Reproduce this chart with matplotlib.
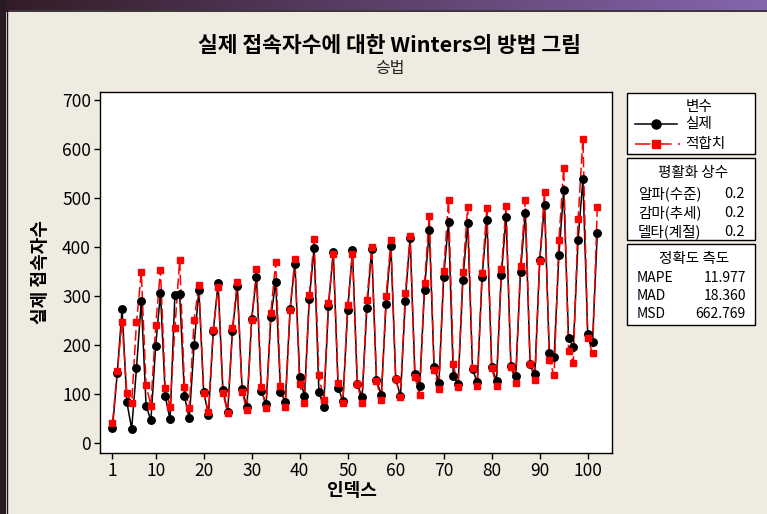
import numpy as np
import matplotlib
matplotlib.use("Agg")
import matplotlib.pyplot as plt
from matplotlib.patches import Rectangle
from matplotlib.lines import Line2D

plt.rcParams['font.family'] = ['Noto Sans CJK KR', 'DejaVu Sans']

# ---- data -------------------------------------------------------------
index = np.arange(1, 103)

actual = [31, 143, 274, 83, 29, 152, 290, 76, 46, 198, 306, 95, 48, 301, 304, 95,
          50, 199, 312, 104, 58, 228, 327, 109, 63, 229, 320, 111, 73, 253, 339, 107,
          79, 257, 329, 105, 84, 273, 366, 135, 96, 293, 397, 105, 73, 280, 390, 113,
          86, 271, 393, 120, 94, 276, 395, 128, 98, 284, 402, 130, 96, 290, 419, 141,
          116, 312, 435, 155, 123, 339, 451, 136, 120, 333, 449, 150, 124, 339, 454, 155,
          127, 342, 461, 157, 136, 349, 470, 161, 141, 373, 486, 184, 176, 383, 516, 214,
          195, 415, 538, 222, 206, 429]

fitted = [41, 146, 247, 101, 81, 246, 348, 118, 76, 240, 353, 112, 73, 234, 373, 115,
          71, 250, 323, 101, 63, 231, 319, 101, 62, 235, 329, 104, 67, 251, 354, 114,
          71, 266, 369, 116, 73, 271, 376, 120, 82, 301, 416, 138, 87, 286, 386, 122,
          82, 282, 385, 120, 82, 291, 400, 126, 87, 300, 414, 131, 94, 305, 422, 134,
          98, 327, 463, 148, 110, 351, 495, 161, 114, 348, 482, 153, 116, 346, 480, 153,
          117, 354, 484, 156, 123, 362, 495, 161, 129, 371, 512, 169, 138, 414, 561, 188,
          164, 456, 621, 215, 183, 481]

x_ticks = [1, 10, 20, 30, 40, 50, 60, 70, 80, 90, 100]
y_ticks = [0, 100, 200, 300, 400, 500, 600, 700]

series_labels = ['실제', '적합치']
smoothing_labels = ['알파(수준)', '감마(추세)', '델타(계절)']
smoothing_values = ['0.2', '0.2', '0.2']
accuracy_labels = ['MAPE', 'MAD', 'MSD']
accuracy_values = ['11.977', '18.360', '662.769']

# ---- figure -----------------------------------------------------------
W, H = 767, 514
fig = plt.figure(figsize=(W / 100, H / 100), dpi=100)
fig.patch.set_facecolor('#EFEBE1')


def fx(px):
    return px / W


def fy(py):
    return 1 - py / H


# window frame: gradient title strip and dark left edge
bar = fig.add_axes([0, fy(10), 1, 10 / H])
grad = np.linspace(0, 1, 256)
c0 = np.array([0.20, 0.11, 0.15])
c1 = np.array([0.52, 0.40, 0.68])
img = (c0[None, :] * (1 - grad[:, None]) + c1[None, :] * grad[:, None])[None, :, :]
bar.imshow(img, aspect='auto', extent=[0, 1, 0, 1])
bar.set_axis_off()
fig.add_artist(Rectangle((0, 0), fx(6), 1, transform=fig.transFigure,
                         facecolor='#2a1a21', edgecolor='none', zorder=5))
fig.add_artist(Line2D([fx(6), 1], [fy(10.5), fy(10.5)], transform=fig.transFigure,
                      color='#1c1418', lw=1.2, zorder=6))
fig.add_artist(Line2D([fx(6.5), fx(6.5)], [0, fy(10)], transform=fig.transFigure,
                      color='#1c1418', lw=1.0, zorder=6))

# ---- main plot --------------------------------------------------------
ax = fig.add_axes([fx(100), fy(453), fx(612) - fx(100), fy(92) - fy(453)])
ax.set_facecolor('white')

ax.plot(index, actual, color='black', lw=1.1, zorder=2)
ax.plot(index, fitted, color='#FF0000', lw=1.1, ls=(0, (7, 2.5)), zorder=3)
ax.plot(index, actual, ls='none', marker='o', ms=5.4, color='black', zorder=4)
ax.plot(index, fitted, ls='none', marker='s', ms=4.9, color='#FF0000', zorder=5)

ax.set_xlim(-1.6, 105.06)
ax.set_ylim(-20.4, 716)
ax.set_xticks(x_ticks)
ax.set_yticks(y_ticks)
ax.tick_params(direction='out', length=4, width=1, labelsize=12.5, pad=2.5,
               colors='black')
for s in ax.spines.values():
    s.set_color('black')
    s.set_linewidth(1.0)

# titles and axis labels
fig.text(fx(389), fy(46), '실제 접속자수에 대한 Winters의 방법 그림', ha='center',
         va='center', fontsize=15.5, fontweight='bold')
fig.text(fx(390), fy(69), '승법', ha='center', va='center', fontsize=11.5,
         color='#222222')
fig.text(fx(352), fy(491), '인덱스', ha='center', va='center', fontsize=13,
         fontweight='bold')
fig.text(fx(40), fy(272), '실제 접속자수', ha='center', va='center', fontsize=13,
         fontweight='bold', rotation=90)

# ---- side panels ------------------------------------------------------
def panel(top, bottom):
    fig.add_artist(Rectangle((fx(627), fy(bottom)), fx(755) - fx(627),
                             fy(top) - fy(bottom), transform=fig.transFigure,
                             facecolor='white', edgecolor='black', lw=1.0))


fs = 10.5
panel(93, 154)
fig.text(fx(699), fy(107), '변수', ha='center', va='center', fontsize=fs)
fig.add_artist(Line2D([fx(635), fx(677)], [fy(124), fy(124)],
                      transform=fig.transFigure, color='black', lw=1.1))
fig.add_artist(Line2D([fx(656)], [fy(124)], transform=fig.transFigure,
                      marker='o', ms=6.5, color='black', ls='none'))
fig.text(fx(685), fy(124), series_labels[0], ha='left', va='center', fontsize=fs)
fig.add_artist(Line2D([fx(635), fx(680)], [fy(144), fy(144)],
                      transform=fig.transFigure, color='#FF0000', lw=1.1,
                      ls=(0, (10, 4))))
fig.add_artist(Line2D([fx(656)], [fy(144)], transform=fig.transFigure,
                      marker='s', ms=6, color='#FF0000', ls='none'))
fig.text(fx(685), fy(144), series_labels[1], ha='left', va='center', fontsize=fs)

panel(158, 240)
fig.text(fx(693), fy(173), '평활화 상수', ha='center', va='center', fontsize=fs)
for k, (lab, val) in enumerate(zip(smoothing_labels, smoothing_values)):
    yy = 193.5 + k * 19.2
    fig.text(fx(638), fy(yy), lab, ha='left', va='center', fontsize=fs)
    fig.text(fx(745), fy(yy), val, ha='right', va='center', fontsize=fs)

panel(244, 325)
fig.text(fx(694), fy(259), '정확도 측도', ha='center', va='center', fontsize=fs)
for k, (lab, val) in enumerate(zip(accuracy_labels, accuracy_values)):
    yy = 277.7 + k * 18.2
    fig.text(fx(637), fy(yy), lab, ha='left', va='center', fontsize=fs - 0.5)
    fig.text(fx(746), fy(yy), val, ha='right', va='center', fontsize=fs - 0.5)

fig.savefig('out.png', dpi=100, facecolor=fig.get_facecolor())
